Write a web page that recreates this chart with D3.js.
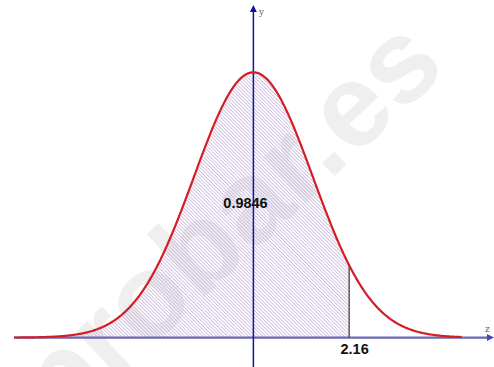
<!DOCTYPE html>
<html>
<head>
<meta charset="utf-8">
<script src="https://cdn.jsdelivr.net/npm/d3@7"></script>
<style>
  html, body { margin: 0; padding: 0; background: #fff; }
  svg { display: block; }
</style>
</head>
<body>
<svg id="chart" width="494" height="367"></svg>
<script>
// Normal curve with the area to the left of a cut point shaded
const zDomain = [-5.4, 5.45];      // horizontal extent of the z axis
const curveRange = [-5.4, 4.7];    // where the red density curve is drawn
const curveSd = 1.34;              // spread of the drawn bell
const zCut = [2.16];               // cut point (vertical line)
const areaLabels = ["0.9846"];     // P(Z < 2.16)
const cutLabels = ["2.16"];
const axisNames = ["y", "z"];
const watermark = ["probar.es"];

const W = 494, H = 367;
const svg = d3.select("#chart");

const x = d3.scaleLinear().domain(zDomain).range([14, 495]);
const y = d3.scaleLinear().domain([0, 0.3]).range([337.6, 70.3]);

const pdf = z => Math.exp(-0.5 * (z / curveSd) ** 2) / (curveSd * Math.sqrt(2 * Math.PI));
const samples = d3.range(curveRange[0], curveRange[1] + 1e-9, 0.02).map(z => ({ z, p: pdf(z) }));
const shaded = samples.filter(d => d.z <= zCut[0]).concat([{ z: zCut[0], p: pdf(zCut[0]) }]);

// faint site mark behind the chart
svg.append("text").text(watermark[0])
  .attr("transform", "translate(60,432) rotate(-43)")
  .attr("font-family", "Liberation Sans, Arial, sans-serif")
  .attr("font-weight", "bold").attr("font-size", 118)
  .attr("fill", "#efefef");

// diagonal hatch
const defs = svg.append("defs");
const pat = defs.append("pattern")
  .attr("id", "hatch")
  .attr("patternUnits", "userSpaceOnUse")
  .attr("width", 2.5).attr("height", 10)
  .attr("patternTransform", "rotate(-45)");
pat.append("line")
  .attr("x1", 0.5).attr("y1", 0).attr("x2", 0.5).attr("y2", 10)
  .attr("stroke", "#bca8d4").attr("stroke-width", 0.75);

const area = d3.area().x(d => x(d.z)).y0(y(0)).y1(d => y(d.p));
svg.append("path").datum(shaded).attr("d", area).attr("fill", "url(#hatch)");

// z axis
svg.append("line")
  .attr("x1", x(zDomain[0])).attr("x2", W - 4)
  .attr("y1", y(0)).attr("y2", y(0))
  .attr("stroke", "#6a68b4").attr("stroke-width", 2.2);
svg.append("path")
  .attr("d", `M${W},${y(0)} L${W - 7},${y(0) - 3.5} L${W - 7},${y(0) + 3.5} Z`)
  .attr("fill", "#4a48b0");

// y axis
svg.append("line")
  .attr("x1", x(0)).attr("x2", x(0))
  .attr("y1", 10).attr("y2", H)
  .attr("stroke", "#1414a0").attr("stroke-width", 1.5);
svg.append("path")
  .attr("d", `M${x(0)},5 L${x(0) - 3.5},12 L${x(0) + 3.5},12 Z`)
  .attr("fill", "#1414a0");

// cut line
svg.selectAll("line.cut").data(zCut).join("line")
  .attr("class", "cut")
  .attr("x1", d => x(d)).attr("x2", d => x(d))
  .attr("y1", y(0)).attr("y2", d => y(pdf(d)))
  .attr("stroke", "#333").attr("stroke-width", 1.2);

// density curve
const line = d3.line().x(d => x(d.z)).y(d => y(d.p));
svg.append("path").datum(samples).attr("d", line)
  .attr("fill", "none").attr("stroke", "#d41e24").attr("stroke-width", 2.2);

// labels
svg.append("text").text(areaLabels[0])
  .attr("x", 245.5).attr("y", 208)
  .attr("text-anchor", "middle")
  .attr("font-family", "Arial, Liberation Sans, sans-serif")
  .attr("font-weight", "bold").attr("font-size", 14.5).attr("fill", "#111");

svg.selectAll("text.cut").data(zCut).join("text")
  .attr("class", "cut")
  .text((d, i) => cutLabels[i])
  .attr("x", d => x(d) + 5.5).attr("y", 354)
  .attr("text-anchor", "middle")
  .attr("font-family", "Arial, Liberation Sans, sans-serif")
  .attr("font-weight", "bold").attr("font-size", 14.5).attr("fill", "#111");

svg.append("text").text(axisNames[0])
  .attr("x", 259).attr("y", 15)
  .attr("font-family", "DejaVu Serif, serif").attr("font-size", 9).attr("fill", "#666");
svg.append("text").text(axisNames[1])
  .attr("x", 485).attr("y", 332)
  .attr("font-family", "DejaVu Serif, serif").attr("font-size", 9).attr("fill", "#666");
</script>
</body>
</html>
